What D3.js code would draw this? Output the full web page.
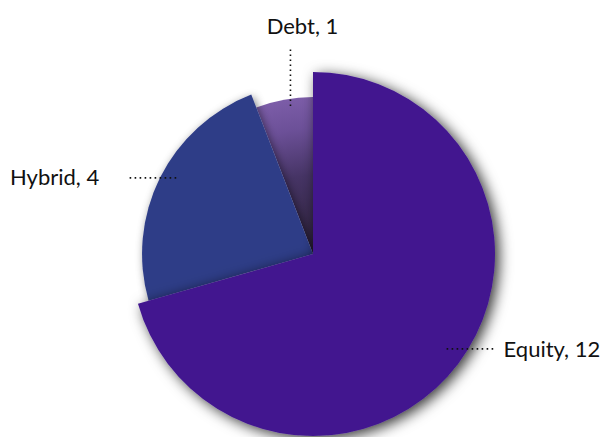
<!DOCTYPE html>
<html>
<head>
<meta charset="utf-8">
<script src="https://cdn.jsdelivr.net/npm/d3@7"></script>
<style>
  html, body { margin: 0; padding: 0; background: #fff; }
  svg { display: block; }
  text { font-family: Lato, "Noto Sans", sans-serif; font-size: 22px; fill: #111; }
</style>
</head>
<body>
<script>
const categories = ["Equity", "Hybrid", "Debt"];
const values = [12, 4, 1];
const colors = ["#42188f", "#2e3d87", "#6e509c"];

const W = 602, H = 437;
const cx = 313, cy = 254;

const svg = d3.select("body").append("svg").attr("width", W).attr("height", H);
const defs = svg.append("defs");

function shadow(id, dx, dy, sd, op) {
  const f = defs.append("filter").attr("id", id)
    .attr("x", "-30%").attr("y", "-30%").attr("width", "160%").attr("height", "160%");
  f.append("feGaussianBlur").attr("in", "SourceAlpha").attr("stdDeviation", sd).attr("result", "b");
  f.append("feOffset").attr("in", "b").attr("dx", dx).attr("dy", dy).attr("result", "o");
  f.append("feFlood").attr("flood-color", "#000").attr("flood-opacity", op).attr("result", "c");
  f.append("feComposite").attr("in", "c").attr("in2", "o").attr("operator", "in").attr("result", "s");
  const m = f.append("feMerge");
  m.append("feMergeNode").attr("in", "s");
  m.append("feMergeNode").attr("in", "SourceGraphic");
}
shadow("shadowBig", 4, 3, 7, 0.8);
shadow("shadowSmall", 2, 2, 4, 0.5);

const data = categories.map((c, i) => ({ name: c, value: values[i], color: colors[i] }));
const pie = d3.pie().sort(null).value(d => d.value);
const arcs = pie(data);

const rScale = d3.scaleLog().domain([d3.min(values), d3.max(values)]).range([157, 182]);

// radial gradient for the small (debt) slice, in the pie group's own coordinates
const grad = defs.append("radialGradient").attr("id", "gDebt")
  .attr("gradientUnits", "userSpaceOnUse")
  .attr("cx", 0).attr("cy", 0).attr("r", rScale(1));
grad.append("stop").attr("offset", "0").attr("stop-color", "#2c2139");
grad.append("stop").attr("offset", "0.5").attr("stop-color", "#463465");
grad.append("stop").attr("offset", "0.8").attr("stop-color", "#6c5098");
grad.append("stop").attr("offset", "1").attr("stop-color", "#7c5da8");

const g = svg.append("g").attr("transform", `translate(${cx},${cy})`);

const arcGen = d => d3.arc().innerRadius(0).outerRadius(rScale(d.data.value))(d);

g.selectAll("path.slice")
  .data(arcs.slice().reverse())
  .join("path")
  .attr("class", "slice")
  .attr("d", arcGen)
  .attr("fill", d => d.data.name === "Debt" ? "url(#gDebt)" : d.data.color)
  .attr("filter", d => d.data.name === "Equity" ? "url(#shadowBig)"
                     : d.data.name === "Hybrid" ? "url(#shadowSmall)" : null);

// labels with dotted leader lines
const lab = svg.append("g");
arcs.forEach(d => {
  const mid = (d.startAngle + d.endAngle) / 2;
  const r = rScale(d.data.value) * 0.92;
  const left = Math.sin(mid) < 0;
  const px = cx + r * Math.sin(mid) + (left ? 4 : 0);
  const py = cy - r * Math.cos(mid) - 6;
  let x2, y2, tx, ty, anchor;
  if (Math.abs(Math.cos(mid)) > 0.9) {
    x2 = px; y2 = 48; tx = px + 12; ty = 34; anchor = "middle";
  } else if (left) {
    x2 = px - 49; y2 = py; tx = x2 - 28; ty = py + 7; anchor = "end";
  } else {
    x2 = px + 49; y2 = py; tx = x2 + 8; ty = py + 8; anchor = "start";
  }
  lab.append("line")
    .attr("x1", px).attr("y1", py).attr("x2", x2).attr("y2", y2)
    .attr("stroke", "#111").attr("stroke-width", 1.6)
    .attr("stroke-dasharray", "1.6 3.4");
  lab.append("text").attr("x", tx).attr("y", ty).attr("text-anchor", anchor)
    .text(`${d.data.name}, ${d.data.value}`);
});
</script>
</body>
</html>
